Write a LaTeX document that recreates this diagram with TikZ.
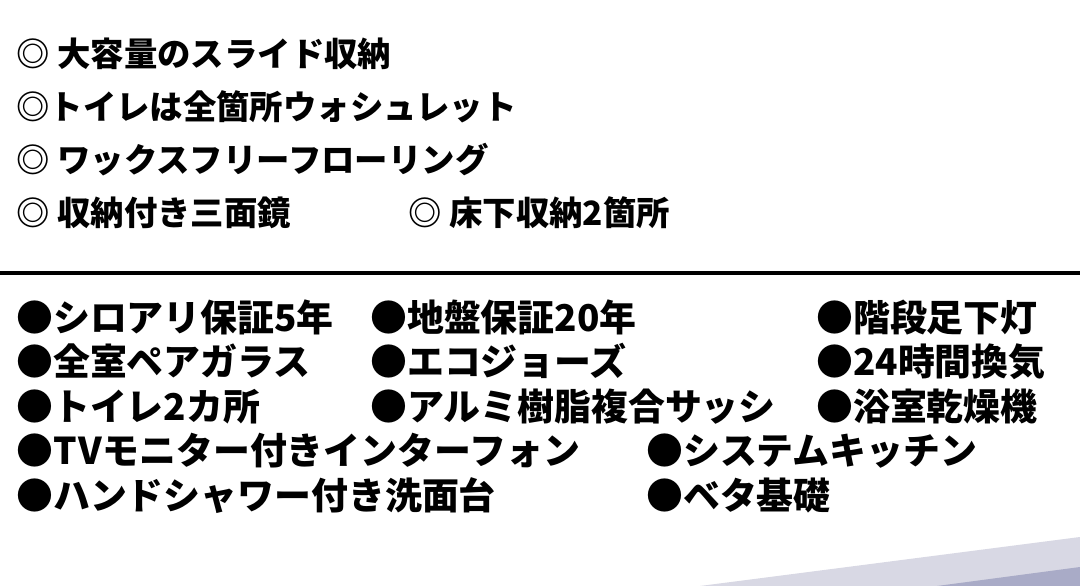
\documentclass[tikz,border=0pt]{standalone}
\usepackage{fontspec}
\newfontfamily\jp{Noto Sans CJK JP}
\definecolor{stripeA}{HTML}{D8D8E4}
\definecolor{stripeB}{HTML}{A9ABC7}
\begin{document}
\begin{tikzpicture}[x=1pt,y=-1pt,
  top/.style={anchor=west,inner sep=0pt,font=\jp\bfseries\fontsize{33.4}{33.4}\selectfont,text height=29.4pt,text depth=4pt},
  bot/.style={anchor=west,inner sep=0pt,font=\jp\bfseries\fontsize{36.9}{36.9}\selectfont,text height=32.5pt,text depth=4.4pt}]
\useasboundingbox[fill=white] (0,0) rectangle (1080,586);
% decorative stripes
\fill[stripeA] (700,586) -- (1080,537) -- (1080,586) -- cycle;
\fill[stripeB] (937,586) -- (1080,567) -- (1080,586) -- cycle;
% separator
\draw[line width=4.2pt] (0,273) -- (1080,273);
% top items
\node[top] (t1) at (16,54) {◎ 大容量のスライド収納};
\node[top] (t2) at (16,107) {◎トイレは全箇所ウォシュレット};
\node[top] (t3) at (16,160) {◎ ワックスフリーフローリング};
\node[top] (t4) at (16,213) {◎ 収納付き三面鏡};
\node[top] (t5) at (408,213) {◎ 床下収納2箇所};
% bottom items
\node[bot] (b11) at (16,317) {●シロアリ保証5年};
\node[bot] (b12) at (370,317) {●地盤保証20年};
\node[bot] (b13) at (816,317) {●階段足下灯};
\node[bot] (b21) at (16,361) {●全室ペアガラス};
\node[bot] (b22) at (370,361) {●エコジョーズ};
\node[bot] (b23) at (816,361) {●24時間換気};
\node[bot] (b31) at (16,406) {●トイレ2カ所};
\node[bot] (b32) at (370,406) {●アルミ樹脂複合サッシ};
\node[bot] (b33) at (816,406) {●浴室乾燥機};
\node[bot] (b41) at (16,450) {●T\kern2ptVモニター付きインターフォン};
\node[bot] (b42) at (646,450) {●システムキッチン};
\node[bot] (b51) at (16,495) {●ハンドシャワー付き洗面台};
\node[bot] (b52) at (646,495) {●ベタ基礎};
\end{tikzpicture}
\end{document}
